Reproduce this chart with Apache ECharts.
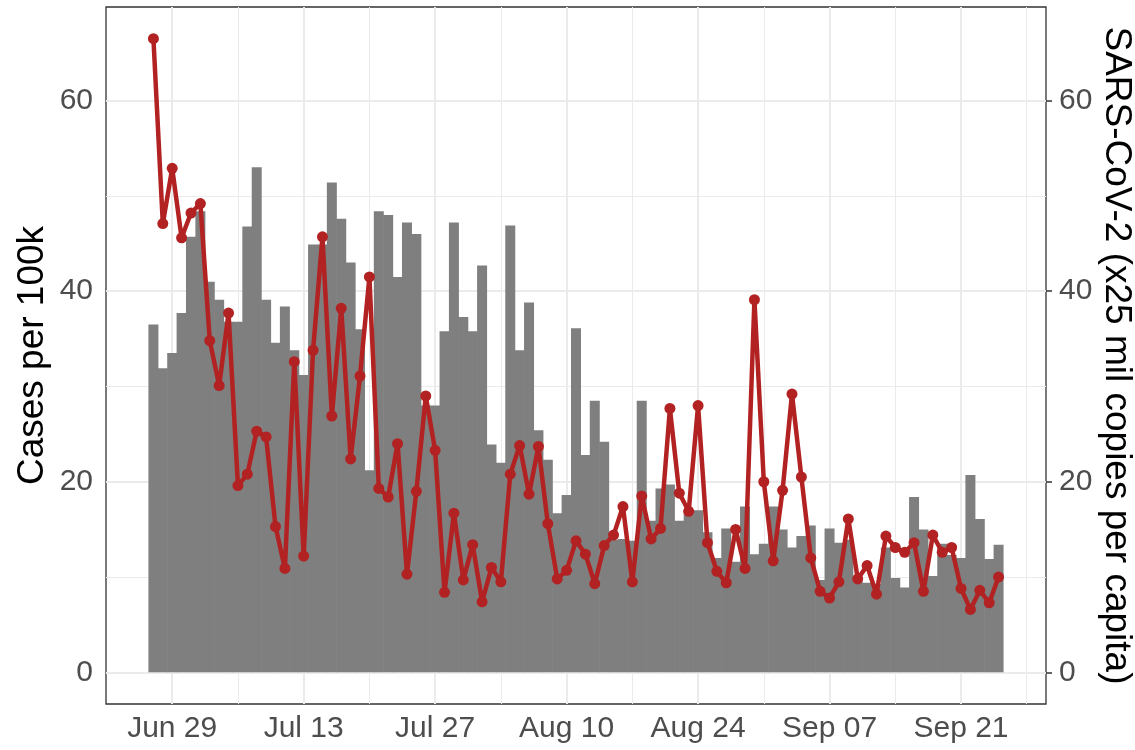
<!DOCTYPE html>
<html><head><meta charset="utf-8">
<script src="https://cdn.jsdelivr.net/npm/echarts@6/dist/echarts.min.js"></script>
<style>html,body{margin:0;padding:0;background:#fff}#c{width:1135px;height:750px}</style>
</head><body><div id="c"></div>
<script>
// ---- data ----
const startDate = '2020-06-27';           // first day of both series, one value per day
const caseRates = [                       // bars: cases per 100k
  36.5, 31.9, 33.5, 37.7,
  45.7, 48.4, 41.0, 39.1, 36.8, 36.8, 46.8, 53.0, 39.1, 34.6, 38.4, 33.8, 31.2, 44.9, 44.9, 51.4,
  47.6, 43.0, 36.0, 21.2, 48.4, 48.0, 41.5, 47.2, 46.0, 28.0, 28.0, 35.8, 47.2, 37.3, 35.8,
  42.7, 23.9, 22.0, 46.9, 33.8, 38.8, 25.4, 22.3, 16.7, 18.6, 36.1, 22.8, 28.5, 24.2, 13.9,
  14.0, 13.8, 28.5, 15.9, 19.3, 19.7, 15.9, 17.0, 17.0, 14.7, 12.0, 15.1, 11.6, 17.4, 12.4, 13.5,
  17.4, 15.0, 13.1, 14.3, 15.4, 9.7, 15.1, 13.6, 13.9, 9.5, 9.4, 9.3, 13.1, 9.9, 8.9,
  18.4, 15.0, 10.1, 13.5, 12.3, 12.0, 20.7, 16.1, 11.9, 13.4
];
const wastewater = [                      // line: SARS-CoV-2 (x25 mil copies per capita)
  66.5, 47.1, 52.9, 45.6,
  48.2, 49.2, 34.8, 30.1, 37.7, 19.6, 20.8, 25.3, 24.7, 15.3, 10.9, 32.6, 12.2, 33.8, 45.7, 26.9,
  38.2, 22.4, 31.1, 41.5, 19.3, 18.4, 24.0, 10.3, 19.0, 29.0, 23.3, 8.4, 16.7, 9.7, 13.4,
  7.4, 11.0, 9.5, 20.8, 23.8, 18.7, 23.7, 15.6, 9.8, 10.7, 13.8, 12.4, 9.3, 13.3, 14.4,
  17.4, 9.5, 18.5, 14.0, 15.1, 27.7, 18.8, 16.9, 28.0, 13.6, 10.6, 9.4, 15.0, 10.9, 39.1, 20.0,
  11.7, 19.1, 29.2, 20.5, 12.0, 8.5, 7.8, 9.5, 16.1, 9.8, 11.2, 8.2, 14.3, 13.1, 12.6,
  13.6, 8.5, 14.4, 12.6, 13.1, 8.8, 6.6, 8.6, 7.3, 10.0
];
const xTickDates = ['2020-06-29','2020-07-13','2020-07-27','2020-08-10','2020-08-24','2020-09-07','2020-09-21'];
const xTickLabels = ['Jun 29','Jul 13','Jul 27','Aug 10','Aug 24','Sep 07','Sep 21'];
const yTicks = [0, 20, 40, 60];
const yMinorTicks = [10, 30, 50];

// ---- helpers ----
const DAY = 86400000;
const ref = Date.UTC(2020, 5, 29);
function dayIndex(s){ const p = s.split('-').map(Number); return (Date.UTC(p[0], p[1]-1, p[2]) - ref) / DAY; }
const start = dayIndex(startDate);
const n = caseRates.length;
const barData = caseRates.map((v, i) => [start + i, v]);
const lineData = wastewater.map((v, i) => [start + i, v]);
const xTicks = xTickDates.map(dayIndex);
const labelOf = {}; xTicks.forEach((t, i) => labelOf[t] = xTickLabels[i]);

// ggplot-like 5% expansion
const xMin = start - 0.5 - 0.05 * n, xMax = start + n - 0.5 + 0.05 * n;
const yDataMax = Math.max(...caseRates, ...wastewater);
const yMin = -0.05 * yDataMax, yMax = yDataMax * 1.05;

const xMinor = [];
const step = xTicks[1] - xTicks[0];
for (let t = xTicks[0] - step / 2; t <= xMax - 0.3; t += step) if (t >= xMin + 0.3) xMinor.push(t);

const GRID = { left: 106, right: 89, top: 7, bottom: 46 };
const plotW = 1135 - GRID.left - GRID.right;
const barW = plotW / (xMax - xMin) + 0.6;

const gridCol = '#EBEBEB';
const glines = [];
xTicks.forEach(v => glines.push({ xAxis: v, lineStyle: { width: 2, color: gridCol, type: 'solid' } }));
xMinor.forEach(v => glines.push({ xAxis: v, lineStyle: { width: 1, color: gridCol, type: 'solid' } }));
yTicks.forEach(v => glines.push({ yAxis: v, lineStyle: { width: 2, color: gridCol, type: 'solid' } }));
yMinorTicks.forEach(v => glines.push({ yAxis: v, lineStyle: { width: 1, color: gridCol, type: 'solid' } }));

const FONT = '"Liberation Sans", Arial, sans-serif';
const TICK_FS = 30, TITLE_FS = 37;
function yAxisCfg(pos, name, rot) {
  return {
    type: 'value', position: pos, min: yMin, max: yMax,
    axisLine: { show: false }, splitLine: { show: false },
    axisTick: { show: true, customValues: yTicks, length: 6, lineStyle: { color: '#333333', width: 1.5 } },
    axisLabel: { customValues: yTicks, color: '#4D4D4D', fontSize: TICK_FS, fontFamily: FONT, margin: 13 },
    name: name, nameLocation: 'middle', nameGap: pos === 'left' ? 55 : 52, nameRotate: rot,
    nameMoveOverlap: false,
    nameTextStyle: { fontSize: TITLE_FS, color: '#000000', fontFamily: FONT }
  };
}

const chart = echarts.init(document.getElementById('c'), null, { renderer: 'canvas' });
chart.setOption({
  animation: false,
  backgroundColor: '#ffffff',
  grid: Object.assign({ show: true, borderColor: '#333333', borderWidth: 1.3, backgroundColor: '#ffffff',
    containLabel: false, outerBoundsMode: 'none' }, GRID),
  xAxis: {
    type: 'value', min: xMin, max: xMax,
    axisLine: { show: false }, splitLine: { show: false },
    axisTick: { show: true, customValues: xTicks, length: 6, lineStyle: { color: '#333333', width: 1.5 } },
    axisLabel: { customValues: xTicks, formatter: v => labelOf[v] || '', color: '#4D4D4D', fontSize: TICK_FS, fontFamily: FONT, margin: 10 }
  },
  yAxis: [ yAxisCfg('left', 'Cases per 100k', 90), yAxisCfg('right', 'SARS-CoV-2 (x25 mil copies per capita)', -90) ],
  series: [
    { type: 'line', data: lineData, z: 1, silent: true, symbol: 'none', lineStyle: { opacity: 0 },
      markLine: { z: 1, silent: true, symbol: 'none', label: { show: false }, animation: false, data: glines } },
    { type: 'bar', data: barData, z: 2, barWidth: barW, itemStyle: { color: '#7F7F7F' }, silent: true },
    { type: 'line', data: lineData, z: 3, symbol: 'circle', symbolSize: 11, showSymbol: true,
      itemStyle: { color: '#B22222' }, lineStyle: { color: '#B22222', width: 4.5 } }
  ]
});
</script></body></html>
